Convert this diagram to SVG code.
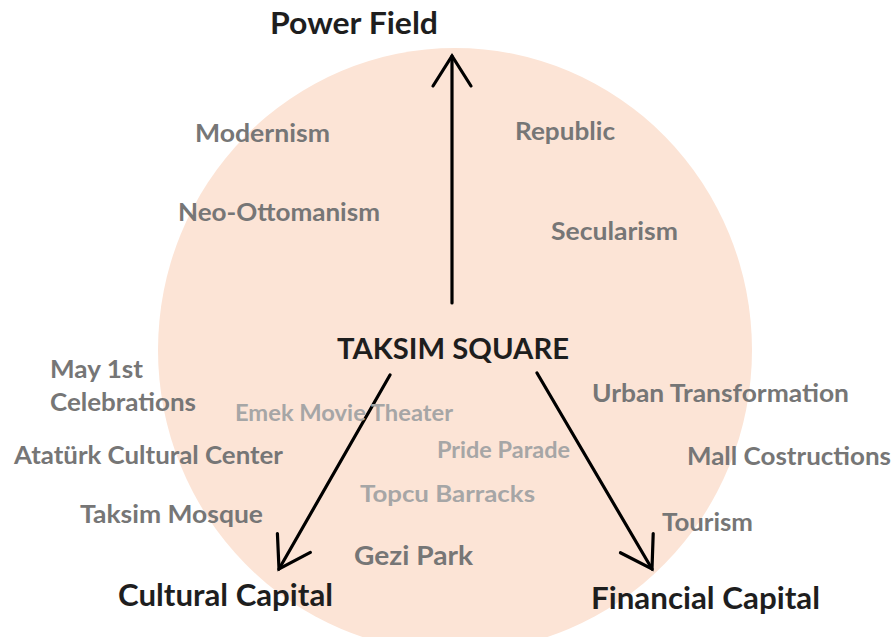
<svg xmlns="http://www.w3.org/2000/svg" width="894" height="637" viewBox="0 0 894 637">
  <style>
    text { font-family: Lato, "Open Sans", "Liberation Sans", sans-serif; font-weight: bold; }
    .head { fill: #1e1e1e; font-size: 30px; }
    .core { fill: #1e1e1e; font-size: 29px; }
    .term { fill: #767676; font-size: 25px; }
    .site { fill: #a6a6a6; font-size: 22.5px; }
    .park { fill: #767676; font-size: 27px; }
    .link { stroke: #000; stroke-width: 3.2; fill: none; stroke-linecap: round; }
  </style>
  <defs>
    <marker id="open-head" markerUnits="userSpaceOnUse" markerWidth="50" markerHeight="50" viewBox="-40 -25 50 50" refX="0" refY="0" orient="auto">
      <path d="M -30 -19 L 0 0 L -30 19" fill="none" stroke="#000" stroke-width="3.2" stroke-linecap="round" stroke-linejoin="miter"/>
    </marker>
  </defs>

  <rect width="894" height="637" fill="#ffffff"/>

  <!-- field of the square -->
  <ellipse id="field" cx="455" cy="350" rx="297" ry="302" fill="#fce4d6"/>

  <!-- connectors -->
  <g id="connectors">
    <line class="link" x1="452" y1="303" x2="452" y2="56" marker-end="url(#open-head)"/>
    <line class="link" x1="390" y1="375" x2="279" y2="569" marker-end="url(#open-head)"/>
    <line class="link" x1="537" y1="373" x2="652" y2="569" marker-end="url(#open-head)"/>
  </g>

  <!-- poles -->
  <g id="power-field"><text class="head" x="270" y="34" textLength="168" lengthAdjust="spacingAndGlyphs">Power Field</text></g>
  <g id="cultural-capital"><text class="head" x="118" y="606" textLength="215" lengthAdjust="spacingAndGlyphs">Cultural Capital</text></g>
  <g id="financial-capital"><text class="head" x="591" y="609" textLength="229" lengthAdjust="spacingAndGlyphs">Financial Capital</text></g>

  <!-- centre -->
  <g id="taksim-square"><text class="core" x="337" y="359" textLength="232" lengthAdjust="spacingAndGlyphs">TAKSIM SQUARE</text></g>

  <!-- power field terms -->
  <g id="modernism"><text class="term" x="195" y="142" textLength="135" lengthAdjust="spacingAndGlyphs">Modernism</text></g>
  <g id="republic"><text class="term" x="515" y="140" textLength="100" lengthAdjust="spacingAndGlyphs">Republic</text></g>
  <g id="neo-ottomanism"><text class="term" x="178" y="221" textLength="202" lengthAdjust="spacingAndGlyphs">Neo-Ottomanism</text></g>
  <g id="secularism"><text class="term" x="551" y="240" textLength="127" lengthAdjust="spacingAndGlyphs">Secularism</text></g>

  <!-- cultural capital terms -->
  <g id="may-1st">
    <text class="term" x="50" y="378" textLength="93" lengthAdjust="spacingAndGlyphs">May 1st</text>
    <text class="term" x="50" y="411" textLength="146" lengthAdjust="spacingAndGlyphs">Celebrations</text>
  </g>
  <g id="ataturk-cultural-center"><text class="term" x="14" y="464" textLength="269" lengthAdjust="spacingAndGlyphs">Atatürk Cultural Center</text></g>
  <g id="taksim-mosque"><text class="term" x="80" y="523" textLength="183" lengthAdjust="spacingAndGlyphs">Taksim Mosque</text></g>

  <!-- sites on the square -->
  <g id="emek-movie-theater"><text class="site" x="235" y="421" textLength="218" lengthAdjust="spacingAndGlyphs">Emek Movie Theater</text></g>
  <g id="pride-parade"><text class="site" x="437" y="458" textLength="133" lengthAdjust="spacingAndGlyphs">Pride Parade</text></g>
  <g id="topcu-barracks"><text class="site" x="360" y="502" textLength="175" lengthAdjust="spacingAndGlyphs">Topcu Barracks</text></g>
  <g id="gezi-park"><text class="park" x="354" y="565" textLength="119" lengthAdjust="spacingAndGlyphs">Gezi Park</text></g>

  <!-- financial capital terms -->
  <g id="urban-transformation"><text class="term" x="592" y="402" textLength="257" lengthAdjust="spacingAndGlyphs">Urban Transformation</text></g>
  <g id="mall-costructions"><text class="term" x="687" y="465" textLength="204" lengthAdjust="spacingAndGlyphs">Mall Costructions</text></g>
  <g id="tourism"><text class="term" x="662" y="531" textLength="91" lengthAdjust="spacingAndGlyphs">Tourism</text></g>
</svg>
